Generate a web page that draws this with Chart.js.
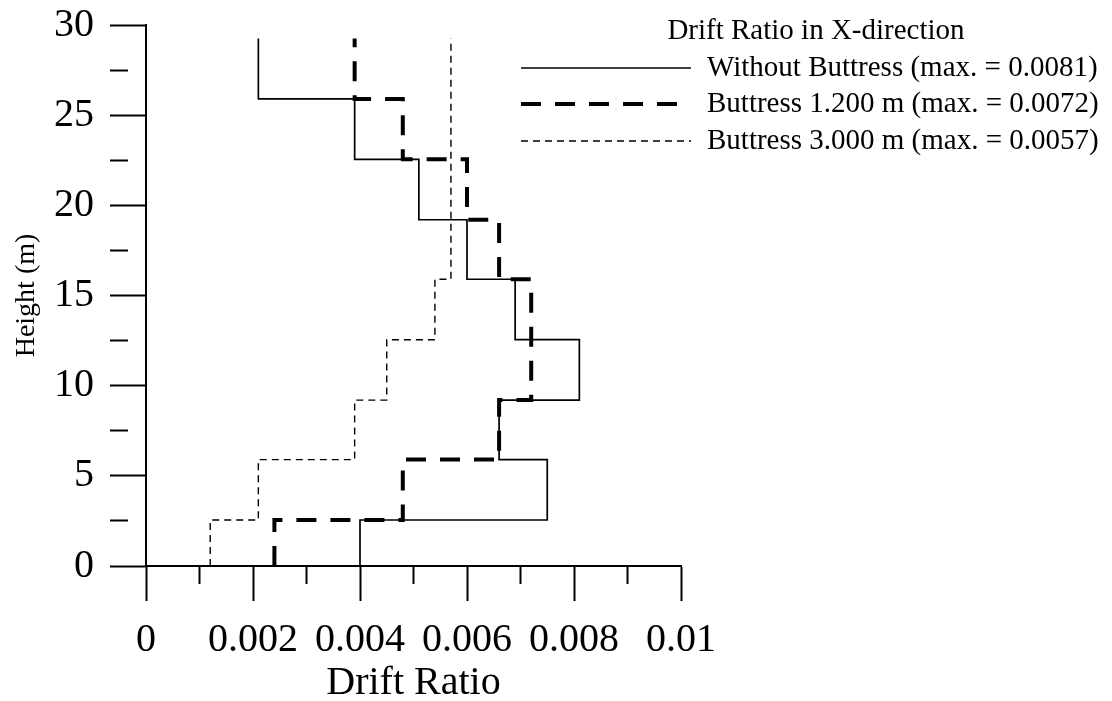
<!DOCTYPE html>
<html lang="en">
<head>
  <meta charset="UTF-8">
  <title>Drift Ratio in X-direction</title>
  <script src="https://cdn.jsdelivr.net/npm/chart.js"></script>
  <style>
    body {
      margin: 0;
      background: #fff;
    }
    .chart-container {
      width: 1112px;
      height: 701px;
    }
  </style>
</head>
<body>
  <div class="chart-container">
    <canvas id="driftChart"></canvas>
  </div>

  <script>
    // storey levels (m) and drift ratio of each storey
    const storyLevels = [0, 2.55, 5.9, 9.2, 12.55, 15.9, 19.2, 22.55, 25.9, 29.25];
    const withoutButtress = [0.0040, 0.0075, 0.0066, 0.0081, 0.0069, 0.0060, 0.0051, 0.0039, 0.0021];
    const buttress1200 = [0.0024, 0.0048, 0.0066, 0.0072, 0.0072, 0.0066, 0.0060, 0.0048, 0.0039];
    const buttress3000 = [0.0012, 0.0021, 0.0039, 0.0045, 0.0054, 0.0057, 0.0057, 0.0057, 0.0057];

    const seriesLabels = [
      'Without Buttress (max. = 0.0081)',
      'Buttress 1.200 m (max. = 0.0072)',
      'Buttress 3.000 m (max. = 0.0057)'
    ];
    const legendTitle = 'Drift Ratio in X-direction';

    // tick positions and labels
    const xMajorTicks = [0, 0.002, 0.004, 0.006, 0.008, 0.01];
    const xTickLabels = ['0', '0.002', '0.004', '0.006', '0.008', '0.01'];
    const xMinorTicks = [0.001, 0.003, 0.005, 0.007, 0.009];
    const yMajorTicks = [0, 5, 10, 15, 20, 25, 30];
    const yTickLabels = ['0', '5', '10', '15', '20', '25', '30'];
    const yMinorTicks = [2.5, 7.5, 12.5, 17.5, 22.5, 27.5];

    const SERIF = '"Liberation Serif", "Times New Roman", serif';

    // turn storey values into a vertical step profile
    function stepPoints(values) {
      const pts = [];
      values.forEach((v, i) => {
        pts.push({ x: v, y: storyLevels[i] });
        pts.push({ x: v, y: storyLevels[i + 1] });
      });
      return pts;
    }

    function isMajor(list, v) {
      return list.some(m => Math.abs(m - v) < 1e-9);
    }

    // legend drawn at the top right, partly over the plot
    const sideLegend = {
      id: 'sideLegend',
      afterDraw(chart) {
        const ctx = chart.ctx;
        ctx.save();
        ctx.fillStyle = '#000';
        ctx.font = '29px ' + SERIF;
        ctx.textBaseline = 'middle';
        ctx.textAlign = 'center';
        ctx.fillText(legendTitle, 816, 31);
        const rows = [68, 104, 141];
        chart.data.datasets.forEach((ds, i) => {
          const y = rows[i];
          ctx.beginPath();
          ctx.strokeStyle = ds.borderColor;
          ctx.lineWidth = ds.borderWidth;
          ctx.setLineDash(ds.borderDash || []);
          ctx.moveTo(521, y);
          ctx.lineTo(691, y);
          ctx.stroke();
          ctx.setLineDash([]);
          ctx.textAlign = 'left';
          ctx.fillText(ds.label, 707, y);
        });
        ctx.restore();
      }
    };

    const xAll = [...xMajorTicks, ...xMinorTicks].sort((a, b) => a - b);
    const yAll = [...yMajorTicks, ...yMinorTicks].sort((a, b) => a - b);

    new Chart(document.getElementById('driftChart').getContext('2d'), {
      type: 'scatter',
      data: {
        datasets: [{
          label: seriesLabels[0],
          data: stepPoints(withoutButtress),
          borderColor: '#000',
          borderWidth: 1.7,
          showLine: true,
          pointRadius: 0
        }, {
          label: seriesLabels[1],
          data: stepPoints(buttress1200),
          borderColor: '#000',
          borderWidth: 4,
          borderDash: [20, 14],
          showLine: true,
          pointRadius: 0
        }, {
          label: seriesLabels[2],
          data: stepPoints(buttress3000),
          borderColor: '#000',
          borderWidth: 1.4,
          borderDash: [7, 5],
          showLine: true,
          pointRadius: 0
        }]
      },
      options: {
        responsive: true,
        maintainAspectRatio: false,
        animation: false,
        layout: {
          padding: { top: 25, right: 431, left: 0, bottom: 0 }
        },
        plugins: {
          legend: { display: false },
          tooltip: { enabled: false }
        },
        scales: {
          x: {
            type: 'linear',
            min: 0,
            max: 0.01,
            afterBuildTicks: scale => { scale.ticks = xAll.map(v => ({ value: v })); },
            afterFit: scale => {
              scale.height = 135;
              scale.paddingLeft = 0;
              scale.paddingRight = 0;
            },
            border: { display: true, color: '#000', width: 2 },
            grid: {
              drawOnChartArea: false,
              drawTicks: true,
              tickLength: 35,
              tickWidth: 2,
              tickColor: '#000',
              tickBorderDash: c => isMajor(xMajorTicks, c.tick.value) ? [] : [17, 200]
            },
            ticks: {
              autoSkip: false,
              maxRotation: 0,
              padding: 15,
              color: '#000',
              font: { family: SERIF, size: 40, lineHeight: 1.2 },
              callback: v => {
                const i = xMajorTicks.findIndex(m => Math.abs(m - v) < 1e-9);
                return i >= 0 ? xTickLabels[i] : '';
              }
            },
            title: {
              display: true,
              text: 'Drift Ratio',
              color: '#000',
              font: { family: SERIF, size: 40, lineHeight: 0.9 },
              padding: { top: 0, bottom: 0 }
            }
          },
          y: {
            type: 'linear',
            min: 0,
            max: 30,
            afterBuildTicks: scale => { scale.ticks = yAll.map(v => ({ value: v })); },
            afterFit: scale => {
              scale.width = 146;
              scale.paddingTop = 0;
              scale.paddingBottom = 0;
            },
            border: { display: true, color: '#000', width: 2 },
            grid: {
              drawOnChartArea: false,
              drawTicks: true,
              tickLength: 36,
              tickWidth: 2,
              tickColor: '#000',
              tickBorderDash: c => isMajor(yMajorTicks, c.tick.value) ? [] : [18, 200]
            },
            ticks: {
              autoSkip: false,
              padding: 16,
              color: '#000',
              font: { family: SERIF, size: 40, lineHeight: 1.2 },
              callback: v => {
                const i = yMajorTicks.findIndex(m => Math.abs(m - v) < 1e-9);
                return i >= 0 ? yTickLabels[i] : '';
              }
            },
            title: {
              display: true,
              text: 'Height (m)',
              color: '#000',
              font: { family: SERIF, size: 28, lineHeight: 1.2 },
              padding: { top: 10, bottom: 0 }
            }
          }
        }
      },
      plugins: [sideLegend]
    });
  </script>
</body>
</html>
